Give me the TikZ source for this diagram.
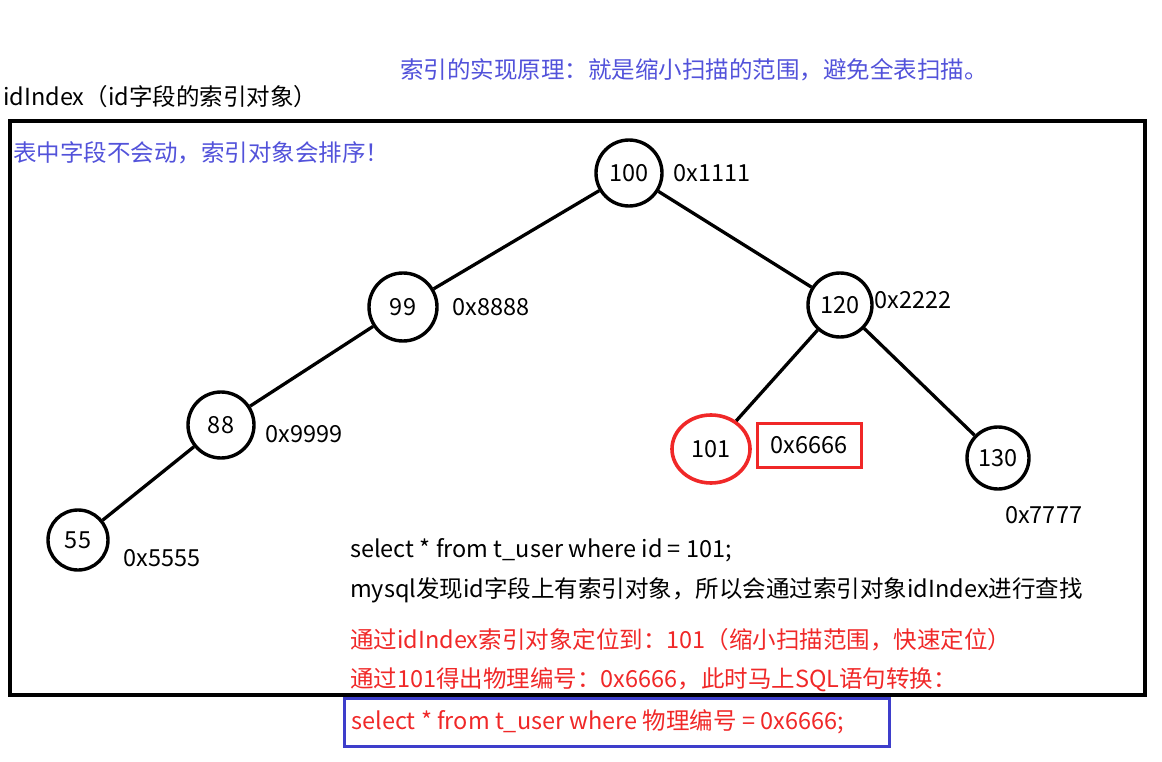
\documentclass[tikz,border=0pt]{standalone}
\usepackage{fontspec}
\setmainfont{Noto Sans CJK SC}
\usetikzlibrary{positioning,shapes.geometric}
\definecolor{notered}{HTML}{F02828}
\definecolor{noteblue}{HTML}{5252DA}
\definecolor{boxblue}{HTML}{3E3ECB}
\begin{document}
\begin{tikzpicture}[x=1pt,y=-1pt, node distance=4pt and 6pt,
every node/.style={font=\fontsize{23.5}{26}\selectfont,inner sep=0pt},
key/.style={draw,circle,line width=3.4pt},
addr/.style={anchor=west},
edge/.style={line width=3.3pt},
note/.style={anchor=west}]
\useasboundingbox (0,0) rectangle (1162,762);
% outer frame
\draw[line width=3.4pt] (10,121) rectangle (1145,695);
\node[note] (title) at (3,97) {idIndex（id字段的索引对象）};
\node[note,text=noteblue] (idea) at (400,70) {索引的实现原理：就是缩小扫描的范围，避免全表扫描。};
\node[note,text=noteblue] (sorted) at (13,153) {表中字段不会动，索引对象会排序！};
% tree
\node[key,minimum size=66pt] (n100) at (629,173) {100};
\node[key,minimum size=68pt] (n99) at (403,307) {99};
\node[key,minimum size=64pt] (n120) at (840,305) {120};
\node[key,minimum size=66pt] (n88) at (221,425) {88};
\node[key,minimum size=60pt] (n55) at (78,540) {55};
\node[draw=notered,ellipse,line width=3.6pt,minimum width=78pt,minimum height=68pt] (n101) at (711,449) {101};
\node[key,minimum size=62pt] (n130) at (998,458) {130};
\draw[edge] (n100)--(n99);\draw[edge] (n100)--(n120);
\draw[edge] (n99)--(n88);\draw[edge] (n88)--(n55);
\draw[edge] (n120)--(n101);\draw[edge] (n120)--(n130);
% addresses
\node[addr,right=10pt of n100] (a100) {0x1111};
\node[addr,right=14pt of n99] (a99) {0x8888};
\node[addr,right=1pt of n120,yshift=5pt] (a120) {0x2222};
\node[addr,right=10pt of n88,yshift=-9pt] (a88) {0x9999};
\node[addr,right=14pt of n55,yshift=-18pt] (a55) {0x5555};
\node[draw=notered,line width=3pt,minimum width=104pt,minimum height=44pt,right=4pt of n101,yshift=4pt] (a101) {0x6666};
\node[addr,below right=16pt and 7pt of n130.south] (a130) {0x7777};
% query notes
\node[note] (q1) at (350,550) {select * from t\_user where id = 101;};
\node[note] (q2) at (350,590) {mysql发现id字段上有索引对象，所以会通过索引对象idIndex进行查找};
\node[note,text=notered] (q3) at (350,640) {通过idIndex索引对象定位到：101（缩小扫描范围，快速定位）};
\node[note,text=notered] (q4) at (350,680) {通过101得出物理编号：0x6666，此时马上SQL语句转换：};
\node[note,draw=boxblue,line width=3pt,text=notered,minimum height=48pt,inner xsep=7pt] (q5) at (343,722) {\makebox[531pt][l]{select * from t\_user where 物理编号 = 0x6666;}};
\end{tikzpicture}
\end{document}
